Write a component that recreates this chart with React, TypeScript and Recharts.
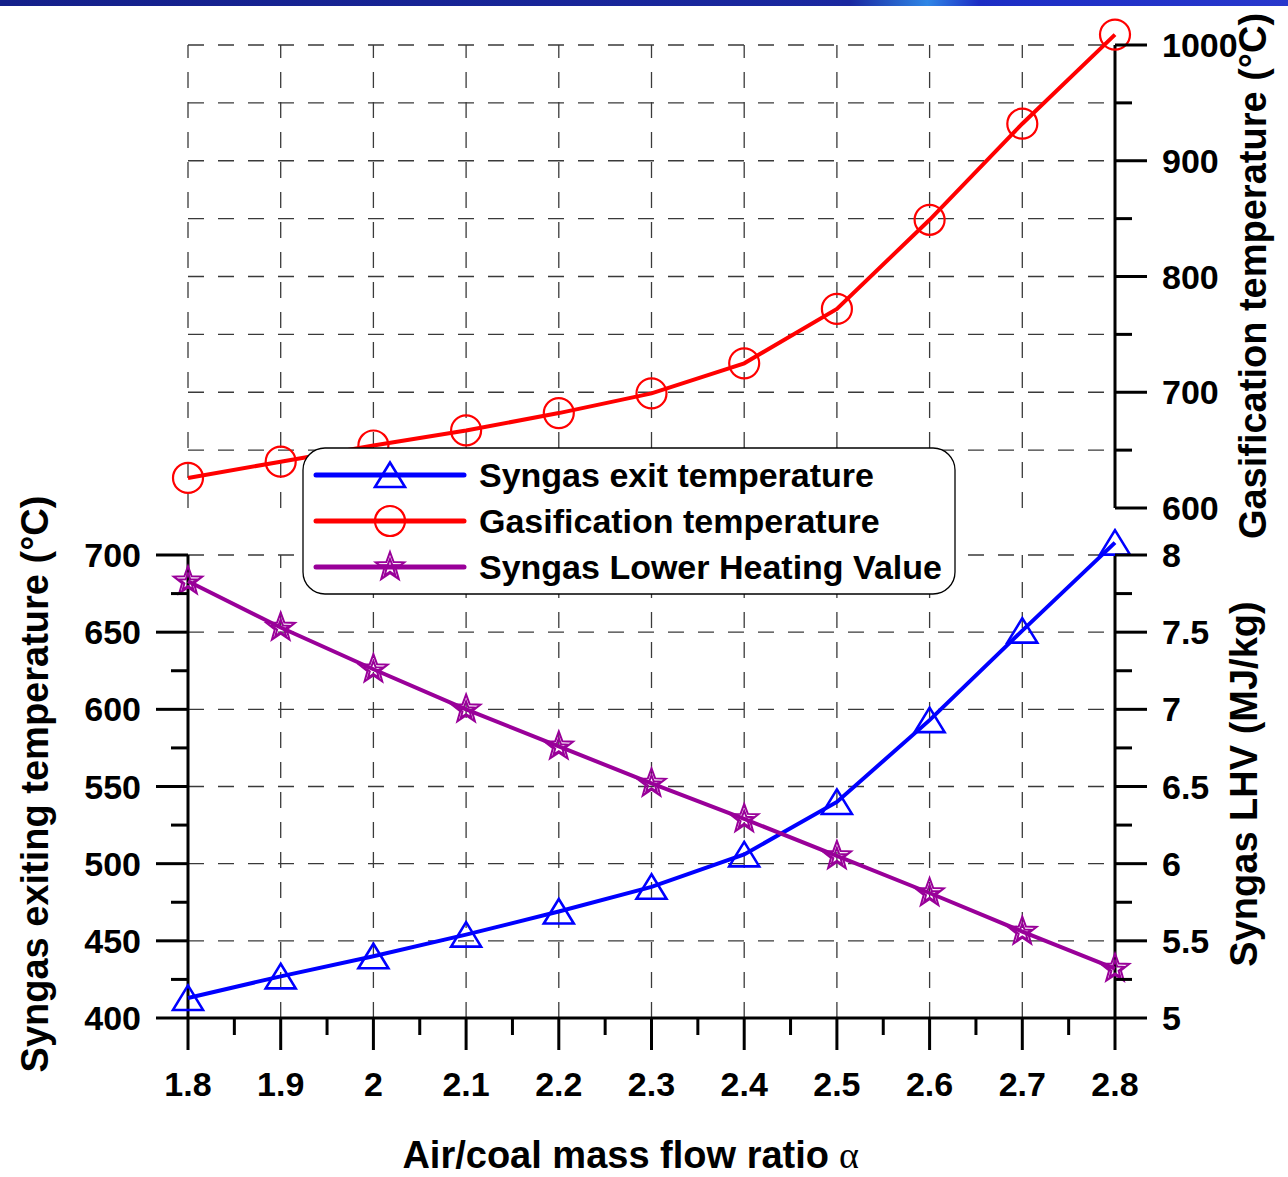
import React from "react";
import { LineChart, Line, XAxis, YAxis, ReferenceLine, Legend } from "recharts";

// air/coal mass flow ratio and the three measured series
const alpha = [1.8, 1.9, 2.0, 2.1, 2.2, 2.3, 2.4, 2.5, 2.6, 2.7, 2.8];
const syngasExitTemp = [413, 427, 440, 454, 469, 485, 506, 540, 593, 651, 708];
const gasificationTemp = [626, 640, 654, 667, 682, 699, 725, 772, 849, 932, 1009];
const syngasLHV = [7.83, 7.53, 7.26, 7.0, 6.76, 6.52, 6.29, 6.05, 5.81, 5.56, 5.32];

// ticks
const alphaMajor = [1.8, 1.9, 2, 2.1, 2.2, 2.3, 2.4, 2.5, 2.6, 2.7, 2.8];
const alphaMinor = [1.85, 1.95, 2.05, 2.15, 2.25, 2.35, 2.45, 2.55, 2.65, 2.75];
const exitMajor = [400, 450, 500, 550, 600, 650, 700];
const exitMinor = [425, 475, 525, 575, 625, 675];
const lhvMajor = [5, 5.5, 6, 6.5, 7, 7.5, 8];
const lhvMinor = [5.25, 5.75, 6.25, 6.75, 7.25, 7.75];
const gasMajor = [600, 700, 800, 900, 1000];
const gasMinor = [650, 750, 850, 950];

// grid lines
const exitGrid = [450, 500, 550, 600, 650, 700];
const gasGrid = [650, 700, 750, 800, 850, 900, 950, 1000];
const alphaGridTop = [1.8, 1.9, 2, 2.1, 2.2, 2.3, 2.4, 2.5, 2.6, 2.7];
const alphaGridBottom = [1.9, 2, 2.1, 2.2, 2.3, 2.4, 2.5, 2.6, 2.7];

const legendLabels = ["Syngas exit temperature", "Gasification temperature", "Syngas Lower Heating Value"];

const data = alpha.map((a, i) => ({
  alpha: a,
  exit: syngasExitTemp[i],
  gas: gasificationTemp[i],
  lhv: syngasLHV[i],
}));

const W = 1288;
const H = 1177;
const AXIS_W = 150;
const PLOT_L = 188;
const PLOT_R = 1115;

// top panel: 600 -> y 508, 1000 -> y 45 ; a bit of headroom for the last point
const TOP_PLOT_TOP = 22;
const gasMax = 600 + ((508 - TOP_PLOT_TOP) * 400) / (508 - 45);
// bottom panel: 400 -> y 1018, 700 -> y 555
const BOT_PLOT_TOP = 520;
const exitMax = 400 + ((1018 - BOT_PLOT_TOP) * 300) / (1018 - 555);
const lhvMax = 5 + ((1018 - BOT_PLOT_TOP) * 3) / (1018 - 555);

const BLUE = "#0000FF";
const RED = "#FF0000";
const PURPLE = "#990099";
const GRID = "#3a3a3a";
const FONT = "'Liberation Sans', Arial, Helvetica, sans-serif";

const tickFont: React.CSSProperties = { fontFamily: FONT, fontWeight: 700, fontSize: 34, fill: "#000" };
const titleFont: React.CSSProperties = { fontFamily: FONT, fontWeight: 700, fontSize: 38, fill: "#000" };

function starPoints(cx: number, cy: number, R: number, r: number) {
  const pts: string[] = [];
  for (let i = 0; i < 10; i++) {
    const a = -Math.PI / 2 + (i * Math.PI) / 5;
    const d = i % 2 === 0 ? R : r;
    pts.push(`${cx + d * Math.cos(a)},${cy + d * Math.sin(a)}`);
  }
  return pts.join(" ");
}

function Marker({ kind, cx, cy }: { kind: string; cx: number; cy: number }) {
  if (kind === "triangle")
    return (
      <polygon
        points={`${cx},${cy - 12.5} ${cx - 15},${cy + 12} ${cx + 15},${cy + 12}`}
        fill="none"
        stroke={BLUE}
        strokeWidth={2.6}
      />
    );
  if (kind === "circle") return <circle cx={cx} cy={cy} r={15} fill="none" stroke={RED} strokeWidth={2.2} />;
  return (
    <g fill="none" stroke={PURPLE} strokeWidth={2}>
      <polygon points={starPoints(cx, cy, 15, 6.2)} />
      <polygon points={starPoints(cx, cy + 1, 9, 3.8)} />
    </g>
  );
}

const dotOf = (kind: string) => (p: any) =>
  p.cx == null ? <g key={p.index} /> : <Marker key={p.index} kind={kind} cx={p.cx} cy={p.cy} />;

const yTick = (side: "left" | "right", majors: number[]) => (p: any) => {
  const { x, y, payload } = p;
  const v = payload.value;
  const major = majors.includes(v);
  const dir = side === "left" ? -1 : 1;
  return (
    <g>
      <line x1={x} x2={x + dir * (major ? 32 : 17)} y1={y} y2={y} stroke="#000" strokeWidth={3} />
      {major && (
        <text
          x={x + dir * 47}
          y={y}
          textAnchor={side === "left" ? "end" : "start"}
          dominantBaseline="central"
          style={tickFont}
        >
          {String(v)}
        </text>
      )}
    </g>
  );
};

const XTick = (p: any) => {
  const { x, y, payload } = p;
  const major = alphaMajor.includes(payload.value);
  return (
    <g>
      <line x1={x} x2={x} y1={y} y2={y + (major ? 32 : 17)} stroke="#000" strokeWidth={3} />
      {major && (
        <text x={x} y={y + 66} textAnchor="middle" dominantBaseline="central" style={tickFont}>
          {String(payload.value)}
        </text>
      )}
    </g>
  );
};

const vTitle = (text: string, cx: number, cy: number) => () => (
  <text
    x={cx}
    y={cy}
    transform={`rotate(-90 ${cx} ${cy})`}
    textAnchor="middle"
    dominantBaseline="central"
    style={titleFont}
  >
    {text}
  </text>
);

const xTitle = () => (
  <g>
    <text x={829} y={1155} textAnchor="end" dominantBaseline="central" style={titleFont}>
      Air/coal mass flow ratio
    </text>
    <text
      x={839}
      y={1155}
      textAnchor="start"
      dominantBaseline="central"
      style={{ ...titleFont, fontFamily: "'Liberation Serif', 'DejaVu Serif', serif", fontWeight: 400 }}
    >
      α
    </text>
  </g>
);

function LegendBox() {
  const kinds = ["triangle", "circle", "star"];
  const colors = [BLUE, RED, PURPLE];
  return (
    <svg width={655} height={149} style={{ display: "block" }}>
      <rect x={1} y={1} width={652} height={146} rx={22} ry={22} fill="#fff" stroke="#000" strokeWidth={1.3} />
      {legendLabels.map((label, i) => {
        const cy = 28 + i * 46;
        return (
          <g key={label}>
            <line x1={14} x2={162} y1={cy} y2={cy} stroke={colors[i]} strokeWidth={5} strokeLinecap="round" />
            <Marker kind={kinds[i]} cx={88} cy={cy} />
            <text x={177} y={cy} dominantBaseline="central" style={tickFont}>
              {label}
            </text>
          </g>
        );
      })}
    </svg>
  );
}

const dash = { stroke: GRID, strokeWidth: 1.3, strokeDasharray: "16 14", ifOverflow: "visible" as const };

export default function App() {
  return (
    <div style={{ position: "absolute", left: 0, top: 0, width: W, height: H, background: "#fff" }}>
      <div
        style={{
          position: "absolute",
          left: 0,
          top: 0,
          width: W,
          height: 6,
          background:
            "linear-gradient(90deg,#14208a 0%,#1a28a0 66%,#2f86e6 72%,#1c2dc4 76%,#2838cc 100%)",
        }}
      />
      {/* top panel: gasification temperature */}
      <div style={{ position: "absolute", left: 0, top: 0 }}>
        <LineChart
          width={W}
          height={H}
          data={data}
          margin={{ top: TOP_PLOT_TOP, left: PLOT_L, right: W - PLOT_R - AXIS_W, bottom: H - 508 }}
        >
          <XAxis
            xAxisId="top"
            type="number"
            dataKey="alpha"
            domain={[1.8, 2.8]}
            height={0}
            tick={false}
            tickLine={false}
            axisLine={{ stroke: "#000", strokeWidth: 3 }}
          />
          <YAxis
            yAxisId="gas"
            orientation="right"
            type="number"
            domain={[600, gasMax]}
            ticks={[...gasMajor, ...gasMinor].sort((a, b) => a - b)}
            interval={0}
            width={AXIS_W}
            axisLine={false}
            tickLine={false}
            tickSize={0}
            tickMargin={0}
            tick={yTick("right", gasMajor)}
            label={vTitle("Gasification temperature (°C)", 1253, 276)}
          />
          {gasGrid.map((g) => (
            <ReferenceLine
              key={`gh${g}`}
              xAxisId="top"
              yAxisId="gas"
              segment={[{ x: 1.8, y: g }, { x: 2.8, y: g }]}
              {...dash}
            />
          ))}
          {alphaGridTop.map((a) => (
            <ReferenceLine
              key={`gv${a}`}
              xAxisId="top"
              yAxisId="gas"
              segment={[{ x: a, y: 600 }, { x: a, y: 1000 }]}
              {...dash}
            />
          ))}
          <ReferenceLine
            xAxisId="top"
            yAxisId="gas"
            segment={[{ x: 2.8, y: 600 }, { x: 2.8, y: 1000 }]}
            stroke="#000"
            strokeWidth={3}
            ifOverflow="visible"
          />
          <Line
            xAxisId="top"
            yAxisId="gas"
            type="linear"
            dataKey="gas"
            stroke={RED}
            strokeWidth={4}
            dot={dotOf("circle")}
            activeDot={false}
            isAnimationActive={false}
          />
        </LineChart>
      </div>
      {/* bottom panel: syngas exit temperature and LHV */}
      <div style={{ position: "absolute", left: 0, top: 0 }}>
        <LineChart
          width={W}
          height={H}
          data={data}
          margin={{ top: BOT_PLOT_TOP, left: PLOT_L - AXIS_W, right: W - PLOT_R - AXIS_W, bottom: 0 }}
        >
          <XAxis
            type="number"
            dataKey="alpha"
            domain={[1.8, 2.8]}
            ticks={[...alphaMajor, ...alphaMinor].sort((a, b) => a - b)}
            interval={0}
            height={H - 1018}
            tickLine={false}
            tickSize={0}
            tickMargin={0}
            tick={XTick}
            axisLine={{ stroke: "#000", strokeWidth: 3 }}
            label={xTitle}
          />
          <YAxis
            yAxisId="exit"
            orientation="left"
            type="number"
            domain={[400, exitMax]}
            ticks={[...exitMajor, ...exitMinor].sort((a, b) => a - b)}
            interval={0}
            width={AXIS_W}
            axisLine={false}
            tickLine={false}
            tickSize={0}
            tickMargin={0}
            tick={yTick("left", exitMajor)}
            label={vTitle("Syngas exiting temperature (°C)", 35, 784)}
          />
          <YAxis
            yAxisId="lhv"
            orientation="right"
            type="number"
            domain={[5, lhvMax]}
            ticks={[...lhvMajor, ...lhvMinor].sort((a, b) => a - b)}
            interval={0}
            width={AXIS_W}
            axisLine={false}
            tickLine={false}
            tickSize={0}
            tickMargin={0}
            tick={yTick("right", lhvMajor)}
            label={vTitle("Syngas LHV (MJ/kg)", 1244, 784)}
          />
          {exitGrid.map((g) => (
            <ReferenceLine
              key={`eh${g}`}
              yAxisId="exit"
              segment={[{ x: 1.8, y: g }, { x: 2.8, y: g }]}
              {...dash}
            />
          ))}
          {alphaGridBottom.map((a) => (
            <ReferenceLine
              key={`ev${a}`}
              yAxisId="exit"
              segment={[{ x: a, y: 400 }, { x: a, y: 700 }]}
              {...dash}
            />
          ))}
          <ReferenceLine
            yAxisId="exit"
            segment={[{ x: 1.8, y: 400 }, { x: 1.8, y: 700 }]}
            stroke="#000"
            strokeWidth={3}
            ifOverflow="visible"
          />
          <ReferenceLine
            yAxisId="exit"
            segment={[{ x: 2.8, y: 400 }, { x: 2.8, y: 700 }]}
            stroke="#000"
            strokeWidth={3}
            ifOverflow="visible"
          />
          <Line
            yAxisId="exit"
            type="linear"
            dataKey="exit"
            stroke={BLUE}
            strokeWidth={4}
            dot={dotOf("triangle")}
            activeDot={false}
            isAnimationActive={false}
          />
          <Line
            yAxisId="lhv"
            type="linear"
            dataKey="lhv"
            stroke={PURPLE}
            strokeWidth={4}
            dot={dotOf("star")}
            activeDot={false}
            isAnimationActive={false}
          />
          <Legend
            layout="vertical"
            align="center"
            verticalAlign="middle"
            content={LegendBox}
            wrapperStyle={{ left: 302, top: 447, width: 655, height: 149 }}
          />
        </LineChart>
      </div>
    </div>
  );
}
